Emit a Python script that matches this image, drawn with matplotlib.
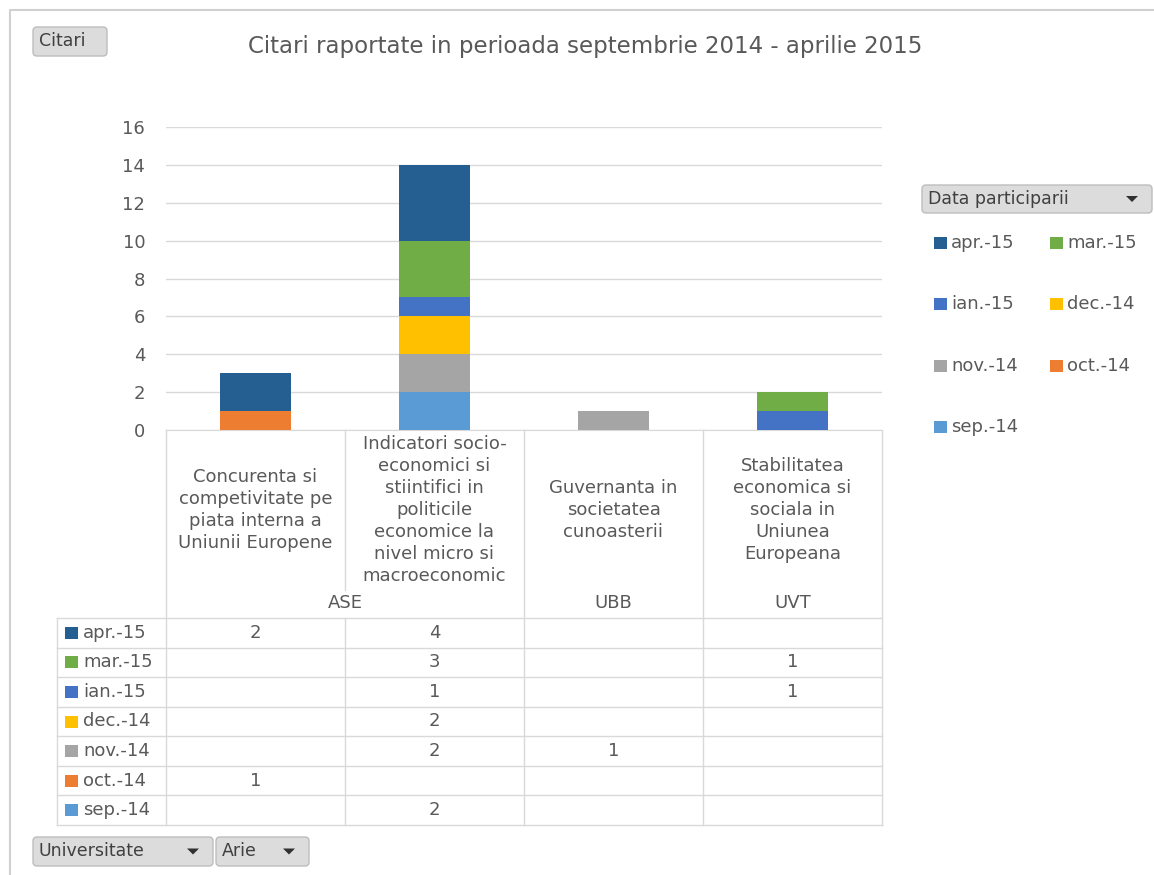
import numpy as np
import matplotlib
matplotlib.use("Agg")
import matplotlib.pyplot as plt
from matplotlib.patches import FancyBboxPatch, Rectangle, Polygon

plt.rcParams['font.family'] = ['DejaVu Sans']

# data
categories = ["Concurenta si\ncompetivitate pe\npiata interna a\nUniunii Europene",
              "Indicatori socio-\neconomici si\nstiintifici in\npoliticile\neconomice la\nnivel micro si\nmacroeconomic",
              "Guvernanta in\nsocietatea\ncunoasterii",
              "Stabilitatea\neconomica si\nsociala in\nUniunea\nEuropeana"]
universities = ["ASE", "UBB", "UVT"]
uni_span = [(0, 1), (2, 2), (3, 3)]
series = ["apr.-15", "mar.-15", "ian.-15", "dec.-14", "nov.-14", "oct.-14", "sep.-14"]
colors = ["#255E91", "#70AD47", "#4472C4", "#FFC000", "#A5A5A5", "#ED7D31", "#5B9BD5"]
apr15 = [2, 4, 0, 0]
mar15 = [0, 3, 0, 1]
ian15 = [0, 1, 0, 1]
dec14 = [0, 2, 0, 0]
nov14 = [0, 2, 1, 0]
oct14 = [1, 0, 0, 0]
sep14 = [0, 2, 0, 0]
values = [apr15, mar15, ian15, dec14, nov14, oct14, sep14]
yticks = [0, 2, 4, 6, 8, 10, 12, 14, 16]

W, H = 1154, 875
txt = "#595959"
line = "#D9D9D9"
fs = 13

fig = plt.figure(figsize=(W / 100, H / 100), dpi=100)
bg = fig.add_axes([0, 0, 1, 1], zorder=0)
bg.set_xlim(0, W)
bg.set_ylim(H, 0)
bg.axis("off")

# outer border
bg.plot([10, 10, W], [H, 10, 10], color="#D0D0D0", lw=1.5)

def button(x0, y0, x1, y1, label, arrow=False):
    bg.add_patch(FancyBboxPatch((x0, y0), x1 - x0, y1 - y0,
                                boxstyle="round,pad=0,rounding_size=4",
                                fc="#DCDCDC", ec="#BDBDBD", lw=1))
    bg.text(x0 + 6, (y0 + y1) / 2, label, color="#404040", fontsize=12.5,
            va="center", ha="left")
    if arrow:
        ax_ = x1 - 20
        cy = (y0 + y1) / 2
        bg.add_patch(Polygon([[ax_ - 6, cy - 3], [ax_ + 6, cy - 3], [ax_, cy + 3]],
                             closed=True, fc="#303030", ec="none"))

button(33, 27, 107, 56, "Citari")
button(922, 185, 1152, 213, "Data participarii", arrow=True)
button(33, 837, 213, 866, "Universitate", arrow=True)
button(216, 837, 309, 866, "Arie", arrow=True)

bg.text(585, 46, "Citari raportate in perioada septembrie 2014 - aprilie 2015",
        color=txt, fontsize=16.5, ha="center", va="center")

# plot area
x0p, x1p, y0p, y1p = 166, 882, 127, 430
ax = fig.add_axes([x0p / W, 1 - y1p / H, (x1p - x0p) / W, (y1p - y0p) / H], zorder=1)
ax.set_facecolor("none")
x = np.arange(len(categories))
bottom = np.zeros(len(categories))
for name, col, vals in reversed(list(zip(series, colors, values))):
    ax.bar(x, vals, 0.4, bottom=bottom, color=col, label=name, zorder=3)
    bottom += np.array(vals)
ax.set_xlim(-0.5, len(categories) - 0.5)
ax.set_ylim(0, 16)
ax.set_yticks(yticks)
ax.tick_params(axis="y", length=0, labelsize=fs, labelcolor=txt, pad=15)
ax.set_xticks([])
ax.grid(axis="y", color=line, lw=1, zorder=0)
for s in ["top", "left", "right"]:
    ax.spines[s].set_visible(False)
ax.spines["bottom"].set_color(line)

# category / university table
colw = (x1p - x0p) / len(categories)
edges = [x0p + i * colw for i in range(len(categories) + 1)]
row_top = 618
row_h = (825 - 618) / len(series)
for i, e in enumerate(edges):
    inner = any(a < i <= b for a, b in uni_span)
    if inner:
        bg.plot([e, e], [y1p, 590], color=line, lw=1)
        bg.plot([e, e], [row_top, 825], color=line, lw=1)
    else:
        bg.plot([e, e], [y1p, 825], color=line, lw=1)
bg.plot([57, 57], [row_top, 825], color=line, lw=1)
for r in range(len(series) + 1):
    yy = row_top + r * row_h
    bg.plot([57, x1p], [yy, yy], color=line, lw=1)

for i, c in enumerate(categories):
    bg.text((edges[i] + edges[i + 1]) / 2, 510, c, color=txt, fontsize=fs,
            ha="center", va="center", linespacing=1.28)
for u, (a, b) in zip(universities, uni_span):
    bg.text((edges[a] + edges[b + 1]) / 2, 603, u, color=txt, fontsize=fs,
            ha="center", va="center")

for r, (name, col, vals) in enumerate(zip(series, colors, values)):
    cy = row_top + (r + 0.5) * row_h
    bg.add_patch(Rectangle((65, cy - 6), 13, 12, fc=col, ec="none"))
    bg.text(83, cy, name, color=txt, fontsize=fs, ha="left", va="center")
    for i, v in enumerate(vals):
        if v:
            bg.text((edges[i] + edges[i + 1]) / 2, cy, str(v), color=txt,
                    fontsize=fs, ha="center", va="center")

# legend (row-wise, two columns)
for k, (name, col) in enumerate(zip(series, colors)):
    lx = 934 + (k % 2) * 116
    ly = 243 + (k // 2) * 61.3
    bg.add_patch(Rectangle((lx, ly - 6), 13, 12, fc=col, ec="none"))
    bg.text(lx + 17, ly, name, color=txt, fontsize=fs, ha="left", va="center")

fig.savefig("out.png", dpi=100)
